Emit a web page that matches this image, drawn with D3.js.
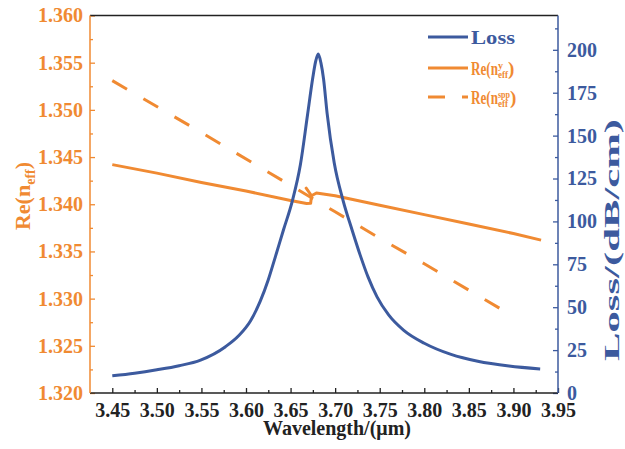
<!DOCTYPE html>
<html><head><meta charset="utf-8">
<script src="https://cdn.jsdelivr.net/npm/d3@7/dist/d3.min.js"></script>
<style>
html,body{margin:0;padding:0;background:#fff;}
svg{display:block;font-family:"Liberation Serif","Times New Roman",serif;font-weight:bold;}
</style></head>
<body><svg id="c" width="625" height="449"></svg>
<script>
// ---- data ----
const lossWavelength = [3.450,3.475,3.500,3.525,3.549,3.577,3.592,3.605,3.616,3.625,3.633,3.642,3.652,3.661,3.669,3.675,3.678,3.681,
  3.684,3.687,3.691,3.699,3.709,3.719,3.728,3.737,3.747,3.760,3.777,3.800,3.830,3.860,3.895,3.930];
const lossValues = [10.0,11.5,13.5,15.9,19.2,27.0,33.5,42.0,53.5,66.0,79.5,95.0,112.0,133.0,162.0,184.0,193.0,197.5,
  192.5,183.0,163.0,134.0,112.0,95.0,80.5,67.5,56.0,45.5,36.5,29.0,22.5,18.5,15.7,14.0];

const yModeWavelength = [3.450,3.500,3.550,3.600,3.650,3.668,3.6725,3.6735,3.6675,3.6735,3.679,3.700,3.750,3.800,3.850,3.900,3.931];
const yModeNeff = [1.3442,1.3433,1.3423,1.3414,1.3404,1.34007,1.3401,1.3409,1.3417,1.3409,1.3412,1.3409,1.3399,1.3389,1.3379,1.3369,1.3362];

const sppWavelength = [3.450,3.550,3.650,3.700,3.750,3.800,3.850,3.893];
const sppNeff = [1.3531,1.3476,1.3420,1.3392,1.3364,1.3337,1.3309,1.3285];

const xTickValues = [3.45,3.50,3.55,3.60,3.65,3.70,3.75,3.80,3.85,3.90,3.95];
const leftTickValues = [1.320,1.325,1.330,1.335,1.340,1.345,1.350,1.355,1.360];
const rightTickValues = [0,25,50,75,100,125,150,175,200];

// ---- styles ----
const ORANGE = "#f08a32", BLUE = "#3c5a9e", BLACK = "#222";
const L = 90, R = 558, T = 15.5, B = 393;

const svg = d3.select("#c");
const x = d3.scaleLinear().domain([3.425,3.95]).range([L,R]);
const yL = d3.scaleLinear().domain([1.32,1.36]).range([B,T]);
const yR = d3.scaleLinear().domain([0,220]).range([B,T]);

// minor ticks
const xMinor = xTickValues.slice(0,-1).map(v=>+(v+0.025).toFixed(3));
const lMinor = leftTickValues.slice(0,-1).map(v=>+(v+0.0025).toFixed(4));
const rMinor = rightTickValues.map(v=>v+12.5);

function styleAxis(g,color){
  g.select(".domain").remove();
  g.selectAll("line").attr("stroke",color).attr("stroke-width",1.3);
  g.selectAll("text").attr("fill",color).style("font-size","20px").style("font-family",'"Liberation Serif","Times New Roman",serif').style("font-weight","bold");
}

// bottom
svg.append("g").attr("transform",`translate(0,${B})`)
  .call(d3.axisBottom(x).tickValues(xTickValues).tickSize(-5).tickPadding(10).tickFormat(d3.format(".2f")))
  .call(g=>styleAxis(g,BLACK));
svg.append("g").attr("transform",`translate(0,${B})`)
  .call(d3.axisBottom(x).tickValues(xMinor).tickSize(-3).tickFormat(""))
  .call(g=>styleAxis(g,BLACK));
// left
svg.append("g").attr("transform",`translate(${L},0)`)
  .call(d3.axisLeft(yL).tickValues(leftTickValues).tickSize(-5).tickPadding(7).tickFormat(d3.format(".3f")))
  .call(g=>styleAxis(g,ORANGE));
svg.append("g").attr("transform",`translate(${L},0)`)
  .call(d3.axisLeft(yL).tickValues(lMinor).tickSize(-3).tickFormat(""))
  .call(g=>styleAxis(g,ORANGE));
// right
svg.append("g").attr("transform",`translate(${R},0)`)
  .call(d3.axisRight(yR).tickValues(rightTickValues).tickSize(-5).tickPadding(9).tickFormat(d3.format("d")))
  .call(g=>styleAxis(g,BLUE));
svg.append("g").attr("transform",`translate(${R},0)`)
  .call(d3.axisRight(yR).tickValues(rMinor).tickSize(-3).tickFormat(""))
  .call(g=>styleAxis(g,BLUE));

// frame
svg.append("line").attr("x1",L).attr("x2",R).attr("y1",T).attr("y2",T).attr("stroke",BLACK).attr("stroke-width",1.5);
svg.append("line").attr("x1",L).attr("x2",R).attr("y1",B).attr("y2",B).attr("stroke",BLACK).attr("stroke-width",1.5);
svg.append("line").attr("x1",L).attr("x2",L).attr("y1",T).attr("y2",B).attr("stroke",ORANGE).attr("stroke-width",1.5);
svg.append("line").attr("x1",R).attr("x2",R).attr("y1",T).attr("y2",B).attr("stroke",BLUE).attr("stroke-width",1.5);

// series
const lossData = lossWavelength.map((w,i)=>[w,lossValues[i]]);
const yData = yModeWavelength.map((w,i)=>[w,yModeNeff[i]]);
const sppData = sppWavelength.map((w,i)=>[w,sppNeff[i]]);

svg.append("path").datum(sppData)
  .attr("d",d3.line().x(d=>x(d[0])).y(d=>yL(d[1])))
  .attr("fill","none").attr("stroke",ORANGE).attr("stroke-width",3).attr("stroke-dasharray","17,19");
svg.append("path").datum(yData)
  .attr("d",d3.line().x(d=>x(d[0])).y(d=>yL(d[1])))
  .attr("fill","none").attr("stroke",ORANGE).attr("stroke-width",3).attr("stroke-linejoin","round");
svg.append("path").datum(lossData)
  .attr("d",d3.line().curve(d3.curveMonotoneX).x(d=>x(d[0])).y(d=>yR(d[1])))
  .attr("fill","none").attr("stroke",BLUE).attr("stroke-width",3);

// axis titles
const lt = svg.append("text").attr("transform","translate(30,196) rotate(-90)").attr("text-anchor","middle")
  .attr("fill",ORANGE).style("font-size","22px");
lt.append("tspan").text("Re(n");
lt.append("tspan").text("eff").style("font-size","14px").attr("dy",5);
lt.append("tspan").text(")").attr("dy",-5);

svg.append("text").attr("transform","translate(619,240) rotate(-90)").attr("x",-121)
  .attr("textLength",242).attr("lengthAdjust","spacingAndGlyphs")
  .attr("fill",BLUE).style("font-size","21px").text("Loss/(dB/cm)");

svg.append("text").attr("x",337).attr("y",435).attr("text-anchor","middle")
  .attr("fill",BLACK).style("font-size","20px").text("Wavelength/(\u03bcm)");

// legend
const lg = svg.append("g");
const rows = [
  {y:37, color:BLUE, dash:null, main:"Loss"},
  {y:68, color:ORANGE, dash:null, main:"Re(n", sub:"eff", sup:"y"},
  {y:97, color:ORANGE, dash:"17,17", main:"Re(n", sub:"eff", sup:"spp"}
];
const TX = 471;
rows.forEach(r=>{
  lg.append("line").attr("x1",428).attr("x2",468).attr("y1",r.y).attr("y2",r.y)
    .attr("stroke",r.color).attr("stroke-width",3).attr("stroke-dasharray",r.dash);
  if(!r.sub){
    lg.append("text").attr("x",TX).attr("y",r.y+7).attr("fill",r.color).style("font-size","19px")
      .attr("textLength",44).attr("lengthAdjust","spacingAndGlyphs").text(r.main);
  } else {
    lg.append("text").attr("x",TX).attr("y",r.y+7).attr("fill",r.color).style("font-size","19px")
      .attr("textLength",27).attr("lengthAdjust","spacingAndGlyphs").text(r.main);
    const s1 = lg.append("text").attr("x",TX+27).attr("y",r.y+10).attr("fill",r.color).style("font-size","11px")
      .attr("textLength",10).attr("lengthAdjust","spacingAndGlyphs").text(r.sub);
    const sw = r.sup.length > 1 ? 12 : 5;
    lg.append("text").attr("x",TX+27).attr("y",r.y+1).attr("fill",r.color).style("font-size","11px")
      .attr("textLength",sw).attr("lengthAdjust","spacingAndGlyphs").text(r.sup);
    const w2 = Math.max(10, sw);
    lg.append("text").attr("x",TX+27+w2).attr("y",r.y+7).attr("fill",r.color).style("font-size","19px").text(")");
  }
});
</script></body></html>
